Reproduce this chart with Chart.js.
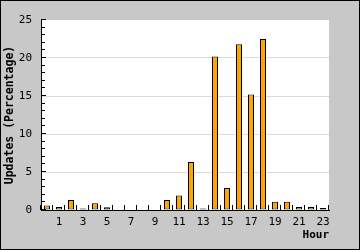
<!DOCTYPE html>
<html>
<head>
<meta charset="utf-8">
<script src="https://cdn.jsdelivr.net/npm/chart.js@4"></script>
<style>
  html, body { margin: 0; padding: 0; background: #c8c8c8; }
</style>
</head>
<body>
<canvas id="chart" width="360" height="250"></canvas>
<script>
const hours = ['0','1','2','3','4','5','6','7','8','9','10','11','12','13','14','15','16','17','18','19','20','21','22','23'];
const updates = [0.6, 0.4, 1.3, 0.2, 0.9, 0.35, 0, 0, 0, 0, 1.3, 1.9, 6.3, 0.2, 20.2, 2.9, 21.8, 15.2, 22.5, 1.1, 1.1, 0.4, 0.4, 0.25];
const yMax = 25;

const frame = {
  id: 'frame',
  beforeDraw(chart) {
    const { ctx, chartArea: a } = chart;
    const W = chart.width, H = chart.height;
    ctx.save();
    ctx.fillStyle = '#c8c8c8';
    ctx.fillRect(0, 0, W, H);
    ctx.fillStyle = '#ffffff';
    ctx.fillRect(a.left, a.top, a.right - a.left, a.bottom - a.top);
    // outer black edge, 1px
    ctx.fillStyle = '#000';
    ctx.fillRect(0, 0, W, 1);
    ctx.fillRect(0, H - 1, W, 1);
    ctx.fillRect(0, 0, 1, H);
    ctx.fillRect(W - 1, 0, 1, H);
    ctx.restore();
  },
  afterDatasetsDraw(chart) {
    const { ctx, chartArea: a, scales } = chart;
    const x = scales.x, y = scales.y;
    ctx.save();
    ctx.fillStyle = '#000';
    // inner ticks on the y axis
    for (let v = 0; v <= yMax; v++) {
      const py = Math.round(y.getPixelForValue(v));
      ctx.fillRect(a.left, py - 1, v % 5 === 0 ? 5 : 4, 1);
    }
    // inner ticks between the hours
    const w = x.getPixelForValue(1) - x.getPixelForValue(0);
    for (let i = 0; i <= hours.length; i++) {
      const px = Math.round(x.getPixelForValue(0) + (i - 0.5) * w);
      ctx.fillRect(px - 1, a.bottom - 5, 1, 5);
    }
    ctx.restore();
  }
};

new Chart(document.getElementById('chart'), {
  type: 'bar',
  data: {
    labels: hours,
    datasets: [{
      data: updates,
      backgroundColor: '#ffa500',
      borderColor: '#000000',
      borderWidth: 1,
      borderSkipped: false,
      barPercentage: 0.5,
      categoryPercentage: 1
    }]
  },
  options: {
    responsive: false,
    animation: false,
    layout: { padding: { top: 20, right: 31, bottom: 0, left: 0 } },
    plugins: { legend: { display: false }, tooltip: { enabled: false } },
    scales: {
      x: {
        afterFit(s) { s.height = 40; },
        grid: { display: false, drawTicks: false },
        border: { display: true, color: '#000', width: 1 },
        ticks: {
          autoSkip: false,
          maxRotation: 0,
          padding: 6,
          color: '#000',
          font: { family: 'DejaVu Sans Mono', size: 11 },
          callback: (v, i) => (i % 2 === 1 ? hours[i] : '')
        },
        title: {
          display: true,
          text: 'Hour',
          align: 'end',
          color: '#000',
          padding: { top: 0, bottom: 8 },
          font: { family: 'DejaVu Sans Mono', size: 11, weight: 'bold' }
        }
      },
      y: {
        min: 0,
        max: yMax,
        afterFit(s) { s.width = 41; },
        grid: {
          drawTicks: false,
          color: c => (c.tick && c.tick.value % 5 === 0 && c.tick.value > 0 && c.tick.value < yMax) ? '#dcdcdc' : 'rgba(0,0,0,0)'
        },
        border: { display: true, color: '#000', width: 1 },
        ticks: {
          stepSize: 1,
          autoSkip: false,
          padding: 9,
          color: '#000',
          font: { family: 'DejaVu Sans Mono', size: 11 },
          callback: v => (v % 5 === 0 ? String(v) : '')
        },
        title: {
          display: true,
          text: 'Updates (Percentage)',
          color: '#000',
          padding: { top: 3, bottom: 0 },
          font: { family: 'DejaVu Sans Mono', size: 11.5, weight: 'bold' }
        }
      }
    }
  },
  plugins: [frame]
});
</script>
</body>
</html>
